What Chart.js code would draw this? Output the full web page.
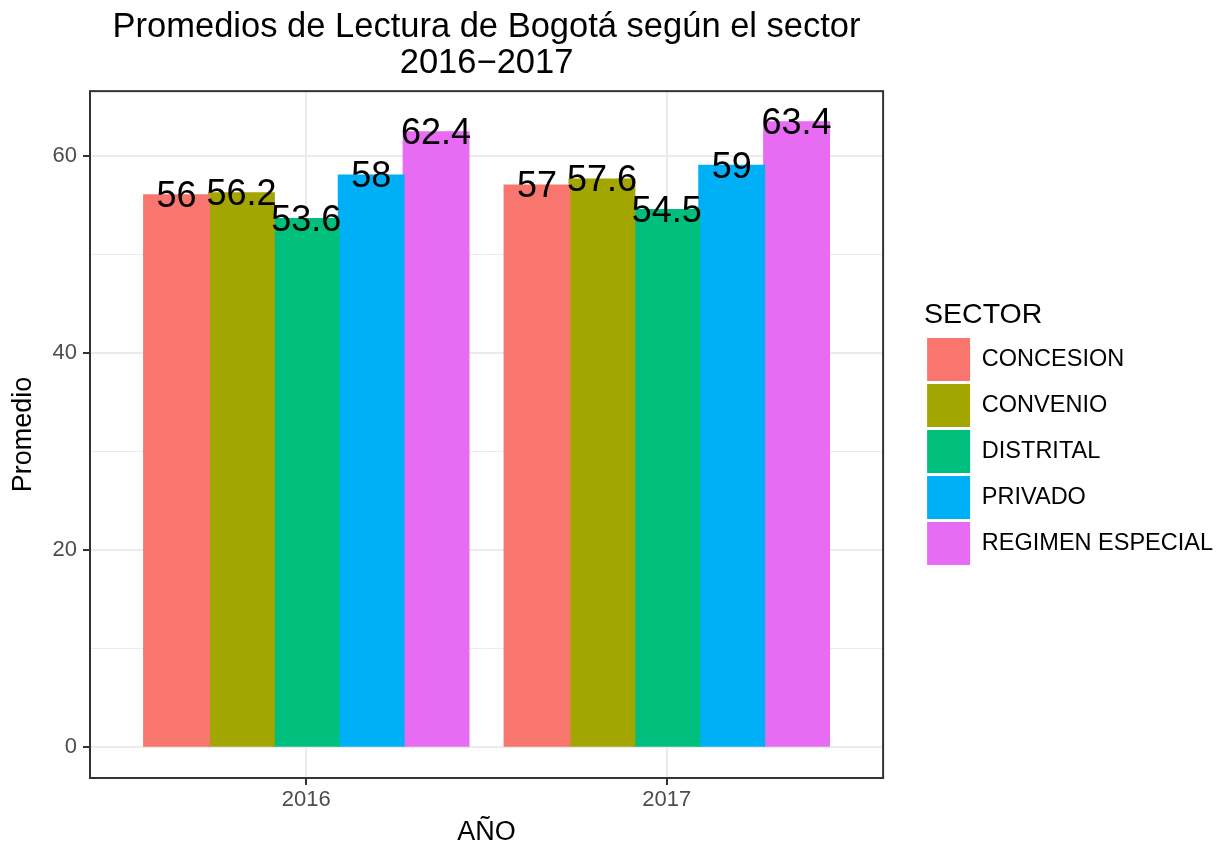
<!DOCTYPE html>
<html>
<head>
<meta charset="utf-8">
<script src="https://cdn.jsdelivr.net/npm/chart.js@4.4.0/dist/chart.umd.min.js"></script>
<style>
body { margin: 0; background: #fff; }
#wrap { width: 1223px; height: 850px; }
</style>
</head>
<body>
<div id="wrap"><canvas id="myChart" width="1223" height="850"></canvas></div>
<script>
// datos
const anios = [2016, 2017];
const sectores = ['CONCESION', 'CONVENIO', 'DISTRITAL', 'PRIVADO', 'REGIMEN ESPECIAL'];
const concesion = [56, 57];
const convenio = [56.2, 57.6];
const distrital = [53.6, 54.5];
const privado = [58, 59];
const regimen = [62.4, 63.4];
const colores = ['#F8766D', '#A3A500', '#00BF7D', '#00B0F6', '#E76BF3'];
const ticksY = [0, 20, 40, 60];
const lineasY = [0, 10, 20, 30, 40, 50, 60];

const series = [concesion, convenio, distrital, privado, regimen];

// rango como ggplot (expansion 5%)
const maxY = Math.max(...series.flat());
const yMin = -0.05 * maxY;
const yMax = maxY * 1.05;

Chart.defaults.font.family = '"Liberation Sans", Arial, sans-serif';

// borde del panel + etiquetas de valores
const etiquetas = {
	id: 'etiquetas',
	afterDatasetsDraw(chart) {
		const ctx = chart.ctx;
		const a = chart.chartArea;
		ctx.save();
		ctx.strokeStyle = '#333333';
		ctx.lineWidth = 2;
		ctx.strokeRect(a.left, a.top, a.right - a.left, a.bottom - a.top);
		ctx.font = '36px "Liberation Sans", Arial, sans-serif';
		ctx.fillStyle = '#000';
		ctx.textAlign = 'center';
		ctx.textBaseline = 'middle';
		chart.data.datasets.forEach((ds, i) => {
			chart.getDatasetMeta(i).data.forEach((bar, j) => {
				ctx.fillText(String(ds.data[j].y), bar.x, bar.y + 2);
			});
		});
		ctx.restore();
	}
};

var ctx = document.getElementById('myChart').getContext('2d');
var myChart = new Chart(ctx, {
	type: 'bar',
	data: {
		datasets: sectores.map((s, i) => ({
			label: s,
			data: anios.map((a, j) => ({ x: a, y: series[i][j] })),
			backgroundColor: colores[i],
			borderWidth: 0,
			inflateAmount: 1,
			categoryPercentage: 0.9,
			barPercentage: 1
		}))
	},
	options: {
		responsive: false,
		animation: false,
		layout: { padding: 0 },
		scales: {
			x: {
				type: 'linear',
				offset: false,
				min: anios[0] - 0.6,
				max: anios[anios.length - 1] + 0.6,
				afterBuildTicks: s => { s.ticks = anios.map(v => ({ value: v })); },
				afterFit: s => { s.height = 72; },
				grid: { offset: false, color: '#ebebeb', lineWidth: 2, tickColor: '#333333', tickLength: 7, tickWidth: 2 },
				border: { display: false },
				ticks: { color: '#4d4d4d', font: { size: 22 }, padding: 2, autoSkip: false, maxRotation: 0, callback: v => String(v) },
				title: { display: true, text: 'AÑO', color: '#000', font: { size: 27 }, padding: { top: 0, bottom: 1 } }
			},
			y: {
				type: 'linear',
				min: yMin,
				max: yMax,
				afterBuildTicks: s => { s.ticks = lineasY.map(v => ({ value: v })); },
				afterFit: s => { s.width = 90; },
				grid: {
					color: '#ebebeb',
					lineWidth: c => ticksY.includes(c.tick.value) ? 2 : 1,
					tickColor: c => ticksY.includes(c.tick.value) ? '#333333' : 'rgba(0,0,0,0)',
					tickLength: 7,
					tickWidth: 2
				},
				border: { display: false },
				ticks: { color: '#4d4d4d', font: { size: 22 }, padding: 6, callback: v => ticksY.includes(v) ? String(v) : '' },
				title: { display: true, text: 'Promedio', color: '#000', font: { size: 27 }, padding: { top: 7, bottom: 0 } }
			},
			hueco: {
				type: 'linear',
				position: 'right',
				display: true,
				grid: { display: false },
				ticks: { display: false },
				border: { display: false },
				afterFit: s => { s.width = 41; }
			}
		},
		plugins: {
			title: {
				display: true,
				fullSize: false,
				text: ['Promedios de Lectura de Bogotá según el sector', '2016\u22122017'],
				color: '#000',
				font: { size: 34.5, weight: 'normal', lineHeight: 1.06 },
				padding: { top: 9, bottom: 9 }
			},
			legend: {
				position: 'right',
				maxWidth: 400,
				title: { display: true, text: 'SECTOR', position: 'start', color: '#000', font: { size: 28.5 }, padding: { top: 19, bottom: 0 } },
				labels: { boxWidth: 43, boxHeight: 43, padding: 3, color: '#000', font: { size: 23.5 } }
			},
			tooltip: { enabled: false }
		}
	},
	plugins: [etiquetas]
});
</script>
</body>
</html>
